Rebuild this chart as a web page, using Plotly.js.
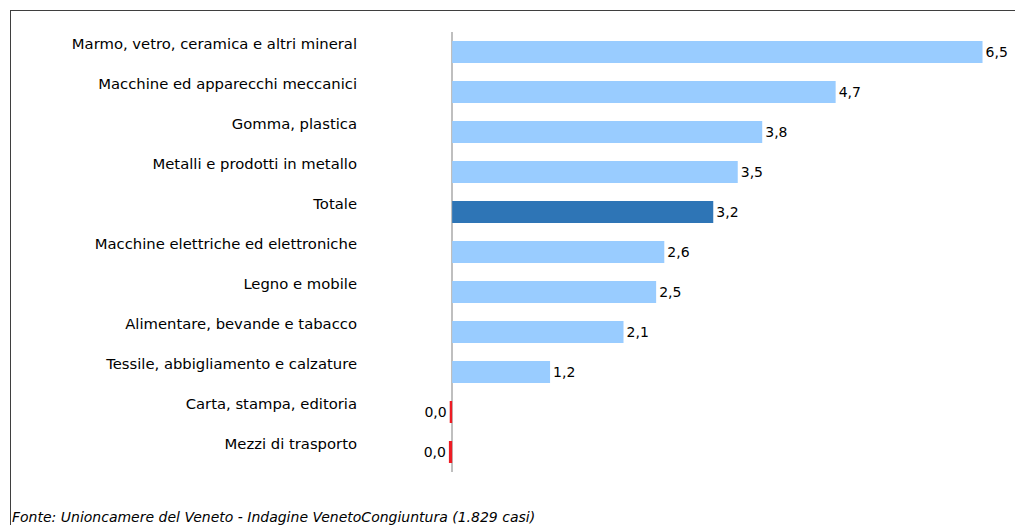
<!DOCTYPE html>
<html>
<head>
<meta charset="utf-8">
<script src="https://cdn.plot.ly/plotly-3.0.1.min.js"></script>
<style>
  html, body { margin: 0; padding: 0; background: #ffffff; }
  #wrap { position: relative; width: 1015px; height: 525px; }
  #chart { position: absolute; left: 0; top: 0; width: 1015px; height: 525px; }
  #frame { position: absolute; left: 10px; top: 10px; width: 1005px; height: 515px;
           border-top: 1px solid #3f3f3f; border-left: 1px solid #3f3f3f; box-sizing: border-box; pointer-events: none; }
</style>
</head>
<body>
<div id="wrap">
  <div id="chart"></div>
  <div id="frame"></div>
</div>
<script>
const categories = [
  "Marmo, vetro, ceramica e altri mineral",
  "Macchine ed apparecchi meccanici",
  "Gomma, plastica",
  "Metalli e prodotti in metallo",
  "Totale",
  "Macchine elettriche ed elettroniche",
  "Legno e mobile",
  "Alimentare, bevande e tabacco",
  "Tessile, abbigliamento e calzature",
  "Carta, stampa, editoria",
  "Mezzi di trasporto"
];
const values = [6.5, 4.7, 3.8, 3.5, 3.2, 2.6, 2.5, 2.1, 1.2, -0.03, -0.04];
const valueLabels = ["6,5", "4,7", "3,8", "3,5", "3,2", "2,6", "2,5", "2,1", "1,2", "0,0", "0,0"];
const sourceNote = "Fonte: Unioncamere del Veneto - Indagine VenetoCongiuntura (1.829 casi)";

const LIGHT = "#99CCFF", DARK = "#2E75B6", RED = "#EE1C24";
const colors = categories.map((c, i) => values[i] < 0 ? RED : (c === "Totale" ? DARK : LIGHT));

const FONT = "DejaVu Sans, Verdana, sans-serif";

const trace = {
  type: "bar",
  orientation: "h",
  y: categories,
  x: values,
  text: valueLabels,
  textposition: "outside",
  texttemplate: "%{text}",
  cliponaxis: false,
  width: 0.55,
  marker: { color: colors, line: { width: 0 } },
  textfont: { family: FONT, size: 14, color: "#000000" },
  hoverinfo: "skip"
};

const layout = {
  width: 1015,
  height: 525,
  margin: { l: 444, r: 8, t: 32, b: 53 },
  paper_bgcolor: "#ffffff",
  plot_bgcolor: "#ffffff",
  showlegend: false,
  bargap: 0.45,
  font: { family: FONT, size: 14, color: "#000000" },
  xaxis: {
    range: [-0.1, 6.8],
    showgrid: false,
    showticklabels: false,
    ticks: "",
    zeroline: true,
    zerolinecolor: "#BFBFBF",
    zerolinewidth: 2,
    showline: false,
    fixedrange: true
  },
  yaxis: {
    type: "category",
    categoryorder: "array",
    categoryarray: categories,
    range: [10.5, -0.5],
    showgrid: false,
    showline: false,
    zeroline: false,
    ticks: "",
    ticklabelstandoff: 86,
    ticklabelshift: 8,
    tickfont: { family: FONT, size: 14.8, color: "#000000" },
    fixedrange: true
  },
  annotations: [{
    text: sourceNote,
    xref: "paper", yref: "paper",
    x: -434 / 563, y: -45 / 440,
    xanchor: "left", yanchor: "middle",
    showarrow: false,
    font: { family: FONT, size: 14, color: "#000000", style: "italic" }
  }]
};

Plotly.newPlot("chart", [trace], layout, { displayModeBar: false, staticPlot: true });
</script>
</body>
</html>
